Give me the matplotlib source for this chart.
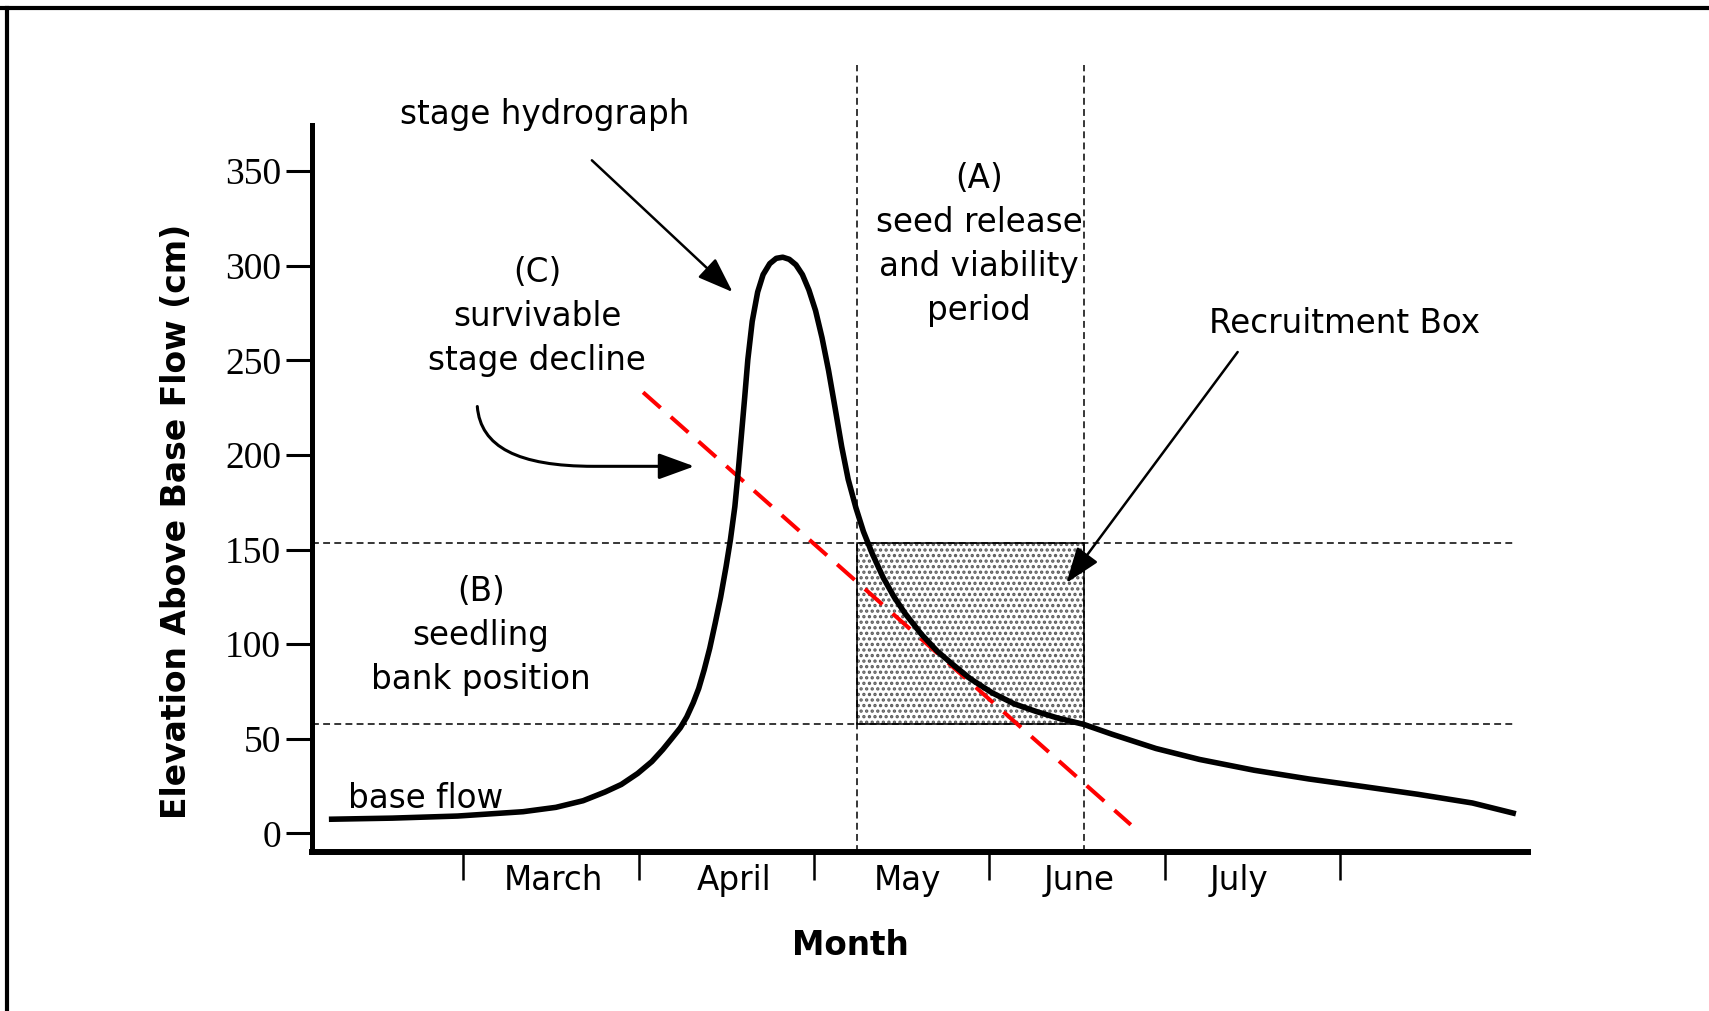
import matplotlib
matplotlib.use("Agg")
import matplotlib.pyplot as plt
from matplotlib.patches import Rectangle, FancyArrowPatch
from matplotlib.lines import Line2D
from matplotlib.path import Path

# Month boundaries on the time axis (month index) and month names
month_edges = [2, 3, 4, 5, 6, 7]
month_names = ["March", "April", "May", "June", "July"]
month_label_pos = [2.516, 3.542, 4.531, 5.514, 6.422]

# Elevation axis ticks (cm)
y_ticks = [0, 50, 100, 150, 200, 250, 300, 350]

# Stage hydrograph: time (month index) vs elevation above base flow (cm)
hydro_t = [1.235, 1.596, 1.969, 2.342, 2.529, 2.684, 2.809, 2.902, 2.995, 3.076,
           3.138, 3.194, 3.238, 3.275, 3.312, 3.343, 3.374, 3.406, 3.437, 3.468,
           3.499, 3.524, 3.549, 3.567, 3.586, 3.605, 3.623, 3.648, 3.679, 3.710,
           3.748, 3.785, 3.822, 3.859, 3.897, 3.934, 3.971, 4.009, 4.046, 4.083,
           4.121, 4.158, 4.195, 4.239, 4.282, 4.332, 4.394, 4.457, 4.519, 4.612,
           4.705, 4.799, 4.892, 5.016, 5.141, 5.265, 5.389, 5.539, 5.700, 5.949,
           6.198, 6.509, 6.820, 7.131, 7.442, 7.753, 8.001]
hydro_y = [7.5, 8.1, 9.2, 11.5, 13.8, 17.3, 21.9, 25.9, 31.7, 38.0,
           44.3, 50.7, 55.8, 61.6, 69.1, 76.6, 86.4, 97.9, 111.1, 124.9,
           141.0, 155.4, 172.7, 190.0, 210.1, 230.3, 250.4, 270.6, 286.1, 295.3,
           301.1, 303.9, 304.5, 303.4, 300.5, 295.3, 287.2, 276.3, 261.9, 244.7,
           224.5, 204.4, 187.1, 172.1, 159.5, 147.9, 135.3, 124.9, 116.3, 105.3,
           96.1, 88.7, 81.7, 74.3, 68.5, 64.5, 61.0, 57.6, 52.4, 44.9,
           39.1, 33.4, 28.8, 24.8, 20.7, 16.1, 10.4]

# Survivable stage decline (red dashed line)
decline_t = [3.026, 5.806]
decline_y = [233.1, 4.6]

# Seed release window (A) and seedling bank elevations (B)
release_start, release_end = 4.245, 5.539
bank_low, bank_high = 57.6, 153.7

XMIN, XMAX = 1.137, 8.07
YMIN, YMAX = -9.8, 374.2

W, H = 1709, 1011
fig = plt.figure(figsize=(W / 100, H / 100), dpi=100)
fig.patch.set_facecolor("white")
ax = fig.add_axes([311.7 / W, 1 - 852 / H, (1528 - 311.7) / W, (852 - 125.3) / H])
ax.set_xlim(XMIN, XMAX)
ax.set_ylim(YMIN, YMAX)

for s in ("top", "right"):
    ax.spines[s].set_visible(False)
ax.spines["left"].set_linewidth(3.6)
ax.spines["bottom"].set_linewidth(4.3)

sans = "DejaVu Sans"
fs = 23.5

# y ticks in a serif face
ax.set_yticks(y_ticks)
ax.set_yticklabels([str(v) for v in y_ticks], family="Liberation Serif", fontsize=27)
ax.tick_params(axis="y", direction="out", length=19, width=2.2, pad=3.0)

# month boundaries as ticks, month names placed between them
ax.set_xticks(month_edges)
ax.set_xticklabels([])
ax.tick_params(axis="x", which="major", direction="out", length=20, width=1.8)
ax.set_xticks(month_label_pos, minor=True)
ax.set_xticklabels(month_names, minor=True, family=sans, fontsize=fs)
ax.tick_params(axis="x", which="minor", length=0, pad=8.7)

ax.set_xlabel("Month", family=sans, fontsize=fs, fontweight="bold", va="center")
ax.xaxis.set_label_coords(0.4426, -0.129)
ax.set_ylabel("Elevation Above Base Flow (cm)", family=sans, fontsize=23.8,
              fontweight="bold", va="center")
ax.yaxis.set_label_coords(-0.111, 0.4555)

# recruitment box: stippled fill plus thin outline
plt.rcParams["hatch.linewidth"] = 1.6
ax.add_patch(Rectangle((release_start, bank_low), release_end - release_start,
                       bank_high - bank_low, facecolor="white", edgecolor="#5a5a5a",
                       hatch="...", linewidth=0, zorder=1))
ax.add_patch(Rectangle((release_start, bank_low), release_end - release_start,
                       bank_high - bank_low, facecolor="none", edgecolor="black",
                       linewidth=1.1, zorder=2))

# dashed guide lines
dash_kw = dict(color="black", linewidth=1.1, dashes=(4.5, 2.8), zorder=2)
for yv in (bank_low, bank_high):
    ax.plot([XMIN, 8.0], [yv, yv], **dash_kw)
for xv in (release_start, release_end):
    ax.plot([xv, xv], [YMIN, 405.8], clip_on=False, **dash_kw)

# survivable stage decline
ax.plot(decline_t, decline_y, color="#ff0000", linewidth=2.9, dashes=(5.8, 3.4),
        zorder=4)

# stage hydrograph
ax.plot(hydro_t, hydro_y, color="black", linewidth=4.0, solid_capstyle="butt",
        solid_joinstyle="round", zorder=5)

# text annotations
txt_kw = dict(family=sans, fontsize=fs, ha="center", va="center", clip_on=False,
              linespacing=1.425)
ax.text(2.463, 379.9, "stage hydrograph", **txt_kw)
ax.text(4.942, 311.1, "(A)\nseed release\nand viability\nperiod", **txt_kw)
ax.text(2.423, 273.1, "(C)\nsurvivable\nstage decline", **txt_kw)
ax.text(2.10, 104.5, "(B)\nseedling\nbank position", **txt_kw)
ax.text(1.785, 18.7, "base flow", **txt_kw)
ax.text(7.022, 269.4, "Recruitment Box", **txt_kw)

# arrows
head = "-|>,head_length=22,head_width=8"
ax.add_patch(FancyArrowPatch((2.734, 355.7), (3.536, 286.1), arrowstyle=head,
                             mutation_scale=1, color="black", linewidth=1.8,
                             shrinkA=0, shrinkB=0, clip_on=False, zorder=6))
ax.add_patch(FancyArrowPatch((6.415, 254.4), (5.439, 132.4), arrowstyle=head,
                             mutation_scale=1, color="black", linewidth=1.8,
                             shrinkA=0, shrinkB=0, clip_on=False, zorder=6))
# hooked arrow from the (C) label towards the decline line
hook = Path([(2.081, 225.6), (2.100, 204.3), (2.311, 194.0), (2.746, 194.0),
             (3.318, 194.0)],
            [Path.MOVETO, Path.CURVE4, Path.CURVE4, Path.CURVE4, Path.LINETO])
ax.add_patch(FancyArrowPatch(path=hook, arrowstyle=head, mutation_scale=1,
                             color="black", linewidth=2.2, clip_on=False, zorder=6))

# frame lines along the top and left edge of the figure
fig.add_artist(Line2D([0, 1], [1 - 8 / H, 1 - 8 / H], transform=fig.transFigure,
                      color="black", linewidth=3.0))
fig.add_artist(Line2D([7 / W, 7 / W], [0, 1 - 8 / H], transform=fig.transFigure,
                      color="black", linewidth=3.0))

fig.savefig("out.png", dpi=100, facecolor="white")
